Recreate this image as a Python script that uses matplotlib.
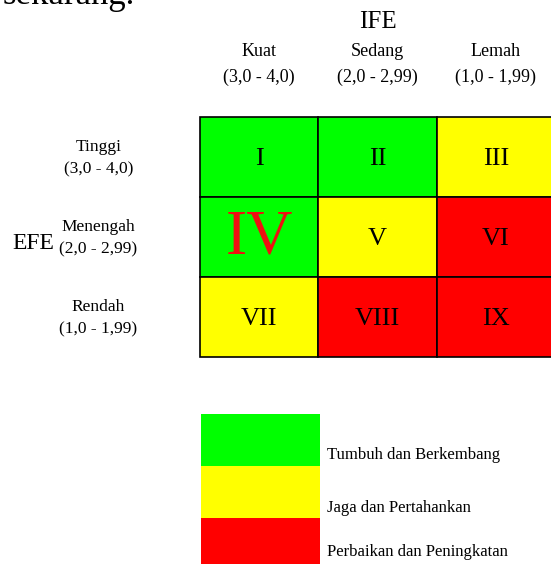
import matplotlib.pyplot as plt
from matplotlib.patches import Rectangle

# IE matrix content
col_names = ['Kuat', 'Sedang', 'Lemah']
col_ranges = ['(3,0 - 4,0)', '(2,0 - 2,99)', '(1,0 - 1,99)']
row_names = ['Tinggi', 'Menengah', 'Rendah']
row_ranges = ['(3,0 - 4,0)', '(2,0 - 2,99)', '(1,0 - 1,99)']
cell_labels = [['I', 'II', 'III'],
               ['IV', 'V', 'VI'],
               ['VII', 'VIII', 'IX']]
cell_zone = [[0, 0, 1],
             [0, 1, 2],
             [1, 2, 2]]
highlight = 'IV'

zone_colors = ['#00ff00', '#ffff00', '#ff0000']
zone_labels = ['Tumbuh dan Berkembang', 'Jaga dan Pertahankan',
               'Perbaikan dan Peningkatan']

plt.rcParams['font.family'] = ['Liberation Serif', 'DejaVu Serif']

W, H = 551, 564
fig = plt.figure(figsize=(W / 100, H / 100), dpi=100)
fig.patch.set_facecolor('white')

def fpos(x0, y0, x1, y1):
    # pixel box -> figure fraction [left, bottom, width, height]
    return [x0 / W, 1 - y1 / H, (x1 - x0) / W, (y1 - y0) / H]

# matrix
ax = fig.add_axes(fpos(200, 117, 555, 357))
ax.set_xlim(0, 3)
ax.set_ylim(3, 0)
ax.axis('off')
for r in range(3):
    for c in range(3):
        ax.add_patch(Rectangle((c, r), 1, 1, facecolor=zone_colors[cell_zone[r][c]],
                               edgecolor='black', linewidth=1.2, clip_on=False))
        lab = cell_labels[r][c]
        if lab == highlight:
            ax.text(c + 0.5, r + 0.52, lab, ha='center', va='center',
                    fontsize=46, color='#ee1111')
        else:
            ax.text(c + 0.5, r + 0.52, lab, ha='center', va='center',
                    fontsize=19, color='black')

# column headers
for c in range(3):
    ax.text(c + 0.5, -0.82, col_names[c], ha='center', va='center', fontsize=13)
    ax.text(c + 0.5, -0.49, col_ranges[c], ha='center', va='center', fontsize=13)
ax.text(1.5, -1.19, 'IFE', ha='center', va='center', fontsize=18)

# row headers
for r in range(3):
    ax.text(-0.86, r + 0.37, row_names[r], ha='center', va='center', fontsize=12.5)
    ax.text(-0.86, r + 0.66, row_ranges[r], ha='center', va='center', fontsize=12.5)
ax.text(-1.41, 1.58, 'EFE', ha='center', va='center', fontsize=17)

# legend
lax = fig.add_axes(fpos(201, 414, 320, 570))
lax.set_xlim(0, 1)
lax.set_ylim(len(zone_colors), 0)
lax.axis('off')
for i, (col, lab) in enumerate(zip(zone_colors, zone_labels)):
    lax.add_patch(Rectangle((0, i), 1, 1, facecolor=col, edgecolor='none'))
    lax.text(1.06, i + [0.78, 0.8, 0.65][i], lab, ha='left', va='center',
             fontsize=12, clip_on=False)

# cut-off text from the page above
fig.text(3 / W, 1 - 4 / H, 'sekarang.', ha='left', va='baseline', fontsize=25)

fig.savefig('out.png', dpi=100)
